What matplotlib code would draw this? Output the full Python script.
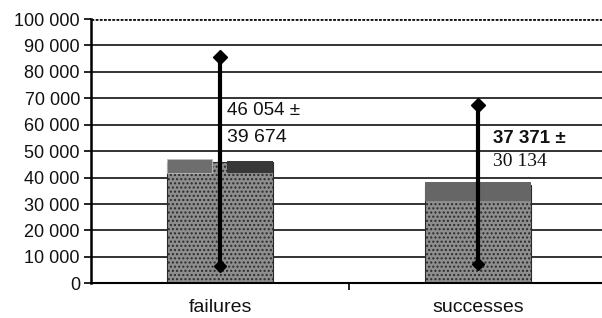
import matplotlib
matplotlib.use("Agg")
import matplotlib.pyplot as plt
import numpy as np

categories = ["failures", "successes"]
means = [46054, 37371]
errors = [39674, 30134]
cap_bottoms = [41800, 31300]
label_line1 = ["46 054 ±", "37 371 ±"]
label_line2 = ["39 674", "30 134"]
yticks = list(range(0, 100001, 10000))
ytick_labels = ["0" if v == 0 else f"{v // 1000} 000" for v in yticks]

plt.rcParams["font.family"] = ["Liberation Sans", "DejaVu Sans"]
plt.rcParams["hatch.color"] = "#767676"

fig = plt.figure(figsize=(6.02, 3.18), dpi=100)
ax = fig.add_axes([91 / 602, 34.7 / 318, 516 / 602, 264.3 / 318])

x = np.arange(len(categories))
means_a = np.array(means)
errs_a = np.array(errors)
caps_a = np.array(cap_bottoms)
w = 0.41

# gridlines
for v in yticks[1:-1]:
    ax.axhline(v, color="#111111", lw=1.2, zorder=1)
ax.axhline(yticks[-1], color="#111111", lw=2.0, ls=(0, (1, 0.5)), zorder=1)

# main bars
ax.bar(x, means_a, width=w, color="#8e8e8e", edgecolor="#2a2a2a", lw=0.8,
       hatch="....", zorder=2)

# top caps
ax.bar(x[0] - w * 0.29, means_a[0] + 800 - caps_a[0], bottom=caps_a[0], width=w * 0.42,
       color="#6e6e6e", edgecolor="#bdbdbd", lw=0.6, zorder=3)
ax.bar(x[0] + w * 0.285, means_a[0] + 400 - caps_a[0], bottom=caps_a[0], width=w * 0.43,
       color="#383838", edgecolor="none", zorder=3)
ax.bar(x[1], means_a[1] + 1000 - caps_a[1], bottom=caps_a[1], width=w,
       color="#666666", edgecolor="none", zorder=3)

# error bars
ax.vlines(x, means_a - errs_a, means_a + errs_a, color="black", lw=3, zorder=5)
ax.plot(x, means_a + errs_a, "D", color="black", ms=7.5, zorder=6)
ax.plot(x, means_a - errs_a, "D", color="black", ms=6.5, zorder=6)

# value labels
l1_pos = [(x[0] + 0.027, 65300), (x[1] + 0.058, 54800)]
l2_pos = [(x[0] + 0.027, 55300), (x[1] + 0.058, 46100)]
for i in range(len(categories)):
    ax.text(*l1_pos[i], label_line1[i], fontsize=13.5, va="center", ha="left",
            color="#111111", zorder=7,
            fontweight="bold" if i == 1 else "normal")
    ax.text(*l2_pos[i], label_line2[i], fontsize=14, va="center", ha="left",
            color="#111111", zorder=7,
            family=["Liberation Sans"] if i == 0 else ["Liberation Serif"],
            bbox=dict(facecolor="white", edgecolor="none", pad=1) if i == 1 else None)

ax.set_xlim(-0.5, 1.5)
ax.set_ylim(0, 100000)
ax.set_yticks(yticks)
ax.set_yticklabels(ytick_labels, fontsize=13, color="#111111")
ax.set_xticks(x)
ax.set_xticklabels(categories, fontsize=14, color="#111111")
ax.tick_params(axis="x", length=0, pad=11)
ax.set_xticks([0.5], minor=True)
ax.tick_params(axis="x", which="minor", length=5, width=1.2, direction="out")
ax.tick_params(axis="y", length=5, width=1.2, direction="out", pad=3)

for s in ["top", "right"]:
    ax.spines[s].set_visible(False)
ax.spines["left"].set_linewidth(1.8)
ax.spines["bottom"].set_linewidth(1.5)

fig.savefig("out.png", dpi=100)
